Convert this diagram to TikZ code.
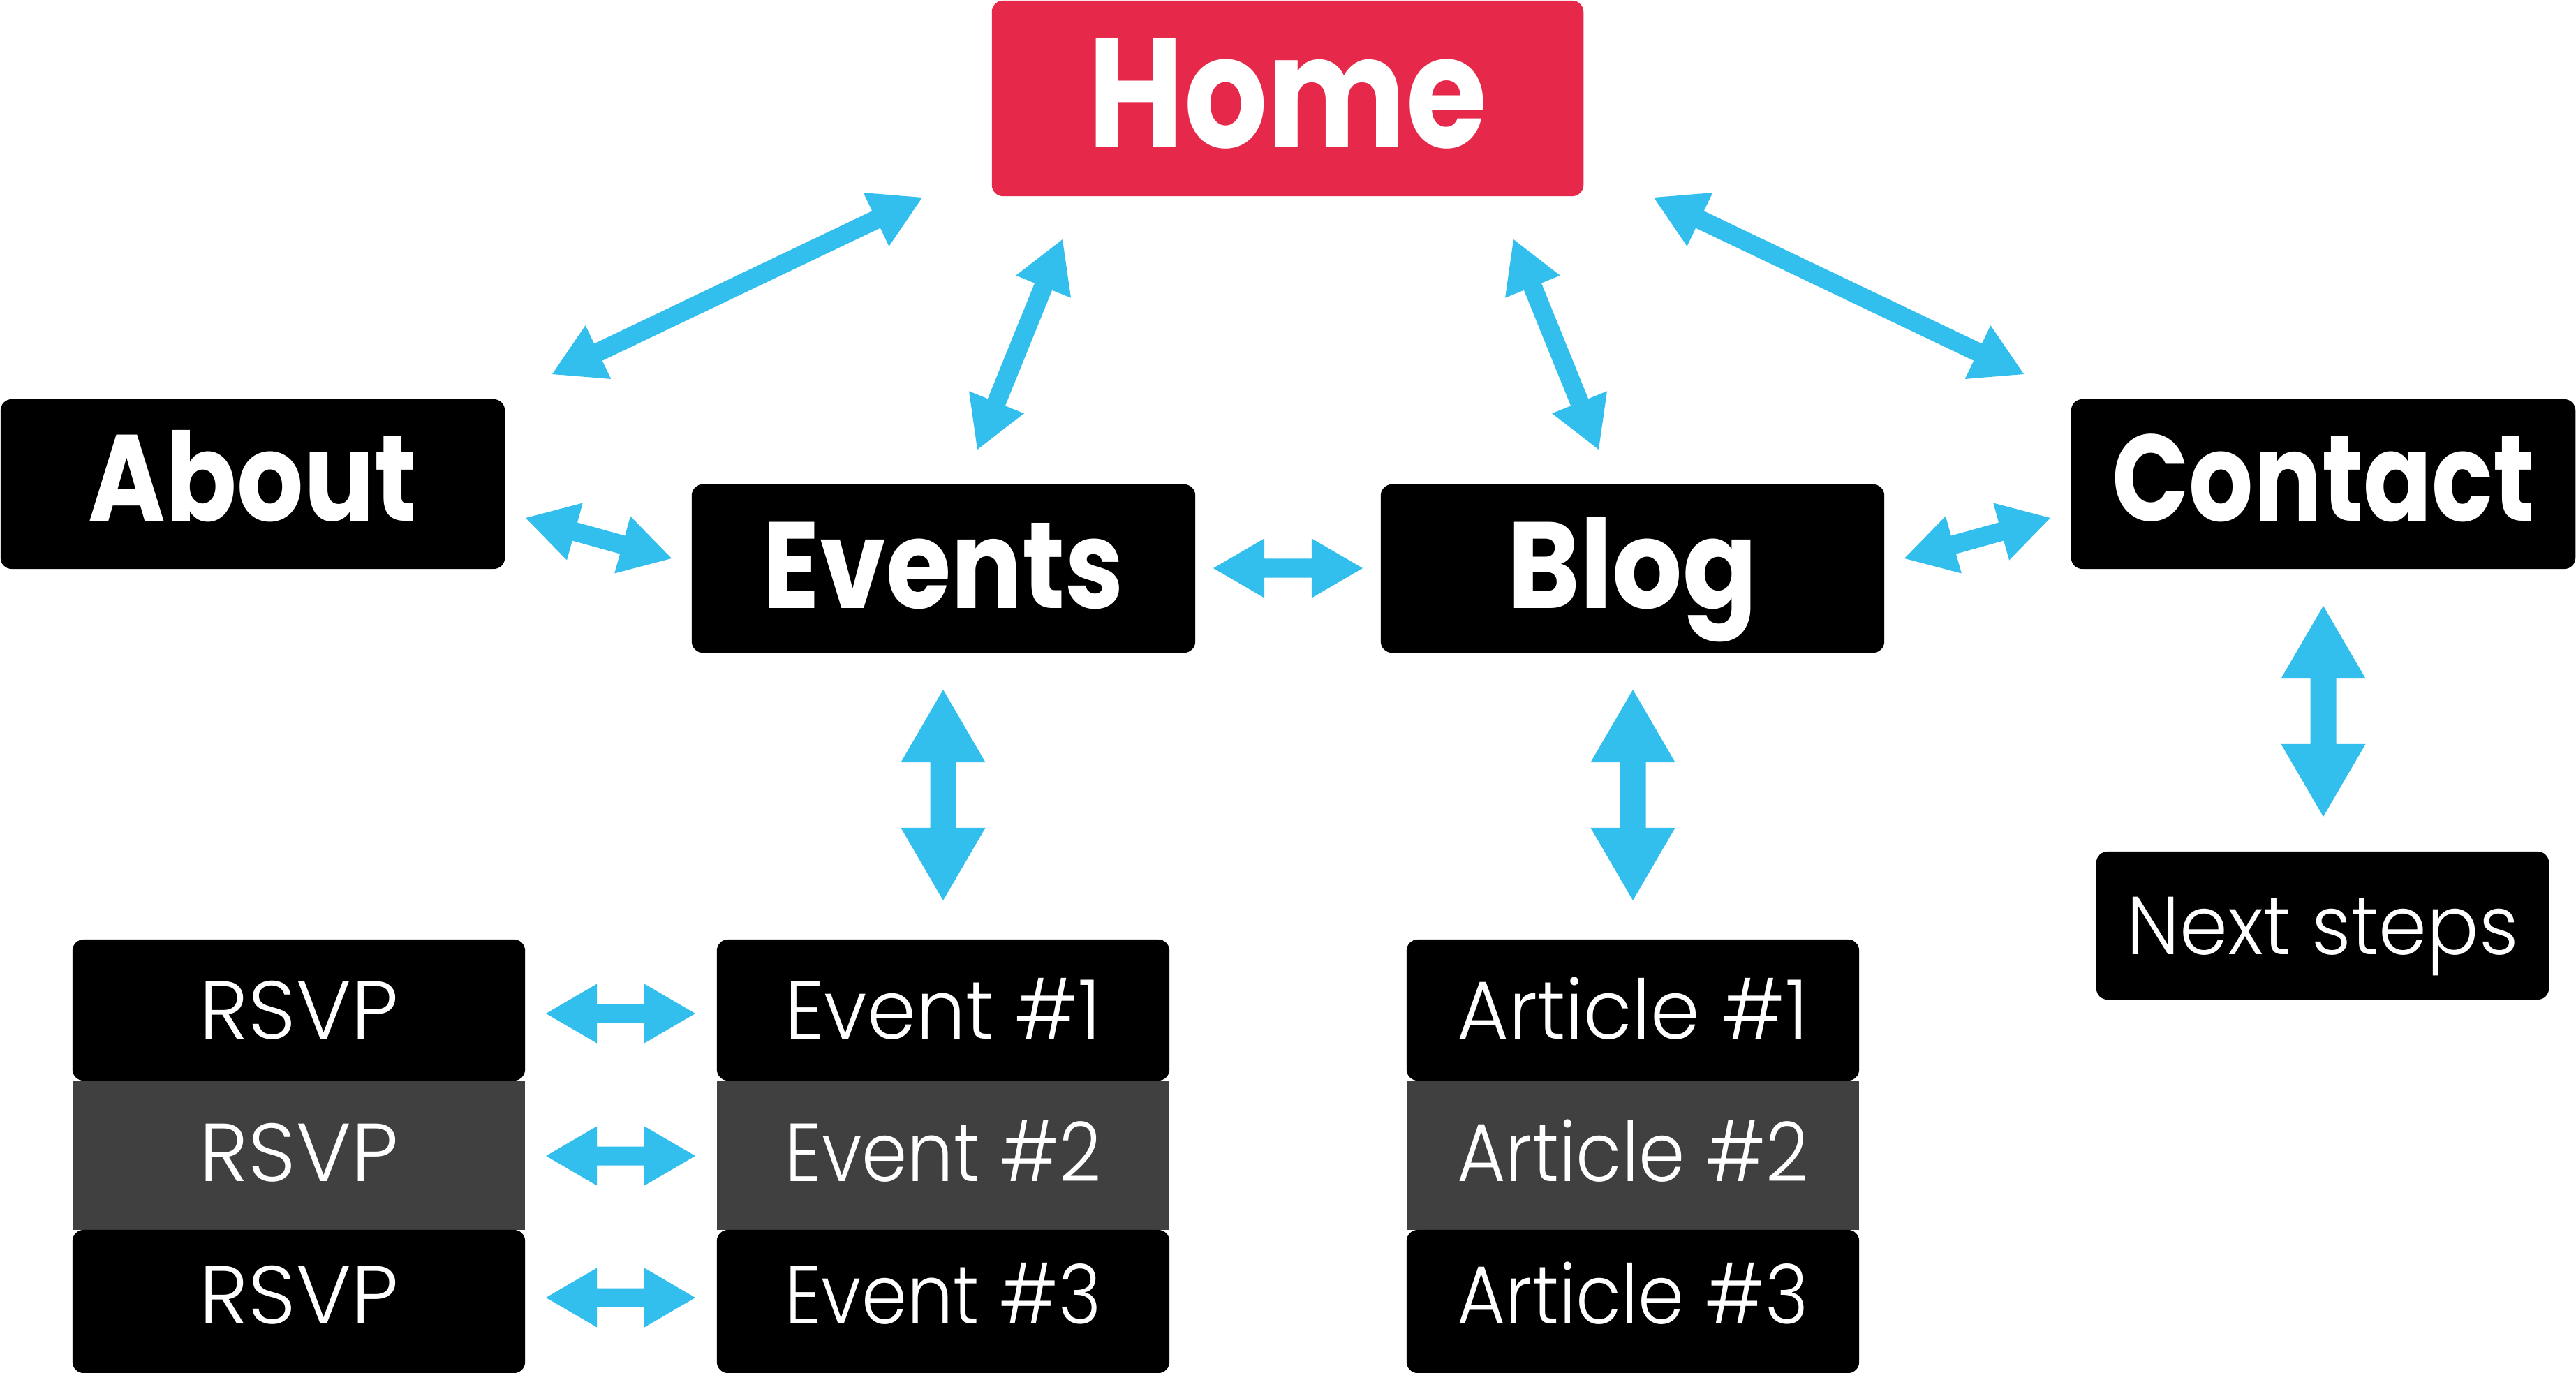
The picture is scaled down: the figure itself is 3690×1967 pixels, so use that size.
\documentclass[tikz,border=0pt]{standalone}
\usepackage{fontspec}
\usepackage{graphicx}
\usetikzlibrary{calc}
\newfontfamily\popf{Poppins}
\IfFontExistsTF{Poppins Light}{\newfontfamily\thinf{Poppins Light}}{\IfFontExistsTF{Lato Light}{\newfontfamily\thinf{Lato Light}}{\newfontfamily\thinf{Lato}}}
\definecolor{homered}{HTML}{E6294B}
\definecolor{arrowblue}{HTML}{33BFEE}
\definecolor{rowgray}{HTML}{404040}
\newcommand\fitw[2]{\resizebox{#1}{\height}{#2}}
\newcommand\dblarrow[5]{%
 \coordinate (ta) at ($(#1)!#5!(#2)$);
 \coordinate (tb) at ($(#2)!#5!(#1)$);
 \fill[arrowblue] (#1) -- ($(ta)!#4!90:(#2)$) -- ($(ta)!#3!90:(#2)$) -- ($(tb)!#3!-90:(#1)$) -- ($(tb)!#4!-90:(#1)$) -- (#2) -- ($(tb)!#4!90:(#1)$) -- ($(tb)!#3!90:(#1)$) -- ($(ta)!#3!-90:(#2)$) -- ($(ta)!#4!-90:(#2)$) -- cycle;}
\newcommand\medarrow[2]{\dblarrow{#1}{#2}{0.135cm}{0.425cm}{0.73cm}}
\newcommand\bigarrow[2]{\dblarrow{#1}{#2}{0.185cm}{0.605cm}{1.04cm}}
\tikzset{
 box/.style={fill=black, text=white, rounded corners=0.16cm, inner sep=0pt, draw=none},
 bigtext/.style={font=\popf\bfseries\fontsize{50}{60}\selectfont},
 thintext/.style={font=\thinf\fontsize{33.5}{40}\selectfont},
 listbox/.style={box, thintext, minimum width=6.48cm},
 row1/.style={listbox, minimum height=2.02cm, text height=0.83cm, text depth=0.01cm},
 row2/.style={listbox, rounded corners=0pt, fill=rowgray, minimum height=2.14cm, text height=0.83cm, text depth=0.09cm},
 row3/.style={listbox, minimum height=2.05cm, text height=0.83cm, text depth=0.20cm},
}
\begin{document}
\begin{tikzpicture}[x=0.01cm, y=-0.01cm]
\useasboundingbox (0,0) rectangle (3690,1967);
% main boxes
\node[box, fill=homered, font=\popf\bfseries\fontsize{63.6}{70}\selectfont, minimum width=8.47cm, minimum height=2.80cm, text height=1.56cm, text depth=0.16cm] (home) at (1844.5,141) {\fitw{5.71cm}{Home}};
\node[box, bigtext, minimum width=7.22cm, minimum height=2.43cm, text height=1.22cm, text depth=0.17cm] (about) at (362,693.5) {\fitw{4.70cm}{About}};
\node[box, bigtext, minimum width=7.21cm, minimum height=2.41cm, text height=1.23cm, text depth=0.10cm] (events) at (1351.5,814.5) {\fitw{5.17cm}{Events}};
\node[box, bigtext, minimum width=7.21cm, minimum height=2.41cm, text height=1.23cm, text depth=0.10cm] (blog) at (2338.5,814.5) {\fitw{3.58cm}{Blog}};
\node[box, bigtext, minimum width=7.22cm, minimum height=2.43cm, text height=1.22cm, text depth=0.16cm] (contact) at (3328,693.5) {\fitw{6.05cm}{Contact}};
\node[listbox, minimum height=2.12cm, text height=0.83cm, text depth=0cm] (next) at (3327,1326) {\fitw{5.61cm}{Next steps}};
% lists
\node[row1] (rsvp1) at (428,1447) {\fitw{2.85cm}{RSVP}};
\node[row2] (rsvp2) at (428,1655) {\fitw{2.85cm}{RSVP}};
\node[row3] (rsvp3) at (428,1864.5) {\fitw{2.85cm}{RSVP}};
\node[row1] (ev1) at (1351,1447) {\fitw{4.53cm}{Event \#1}};
\node[row2] (ev2) at (1351,1655) {\fitw{4.53cm}{Event \#2}};
\node[row3] (ev3) at (1351,1864.5) {\fitw{4.53cm}{Event \#3}};
\node[row1] (art1) at (2339,1447) {\fitw{5.03cm}{Article \#1}};
\node[row2] (art2) at (2339,1655) {\fitw{5.03cm}{Article \#2}};
\node[row3] (art3) at (2339,1864.5) {\fitw{5.03cm}{Article \#3}};
% arrow end points
\coordinate (hA1) at (1321,283); \coordinate (hA2) at (791,536);
\coordinate (hE1) at (1522,343); \coordinate (hE2) at (1400,644);
\coordinate (hB1) at (2168,343); \coordinate (hB2) at (2290,644);
\coordinate (hC1) at (2369,283); \coordinate (hC2) at (2899,536);
\coordinate (aE1) at (753,742); \coordinate (aE2) at (962,800);
\coordinate (bC1) at (2728,800); \coordinate (bC2) at (2937,742);
\coordinate (eB1) at (1738,814); \coordinate (eB2) at (1952,814);
\coordinate (eL1) at (1351,988); \coordinate (eL2) at (1351,1290);
\coordinate (bL1) at (2339,988); \coordinate (bL2) at (2339,1290);
\coordinate (cN1) at (3328,868); \coordinate (cN2) at (3328,1170);
\foreach \i/\y in {1/1452,2/1656,3/1859}{
 \coordinate (r\i a) at (782,\y); \coordinate (r\i b) at (996,\y);
}
\medarrow{hA1}{hA2}
\medarrow{hE1}{hE2}
\medarrow{hB1}{hB2}
\medarrow{hC1}{hC2}
\medarrow{aE1}{aE2}
\medarrow{bC1}{bC2}
\medarrow{eB1}{eB2}
\medarrow{r1a}{r1b}
\medarrow{r2a}{r2b}
\medarrow{r3a}{r3b}
\bigarrow{eL1}{eL2}
\bigarrow{bL1}{bL2}
\bigarrow{cN1}{cN2}
\end{tikzpicture}
\end{document}
